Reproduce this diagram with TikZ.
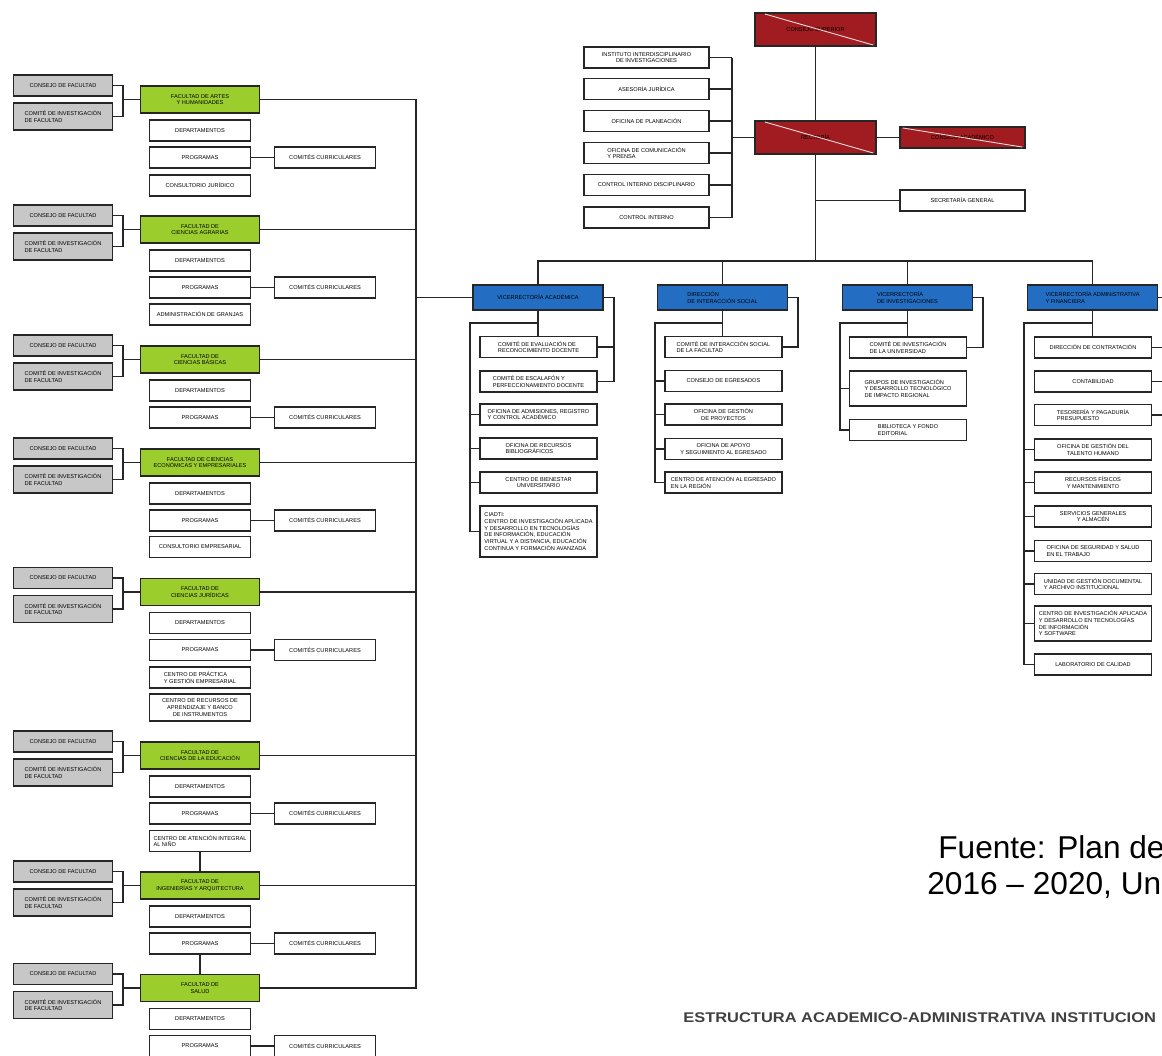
\documentclass[tikz,border=0pt]{standalone}
\usepackage{fontspec}
\setmainfont{Liberation Sans}
\newcommand\boxfont{\fontsize{3.2}{3.8}\selectfont}
\definecolor{boardred}{RGB}{160,28,32}
\definecolor{viceblue}{RGB}{35,110,195}
\definecolor{facgreen}{RGB}{155,205,45}
\tikzset{
  orgbox/.style={draw=black!85, line width=0.9pt, fill=white, font=\boxfont, align=center,
    inner sep=1pt, minimum height=0.42cm},
  staff/.style={orgbox, minimum width=2.5cm},
  board/.style={orgbox, fill=boardred, minimum width=2.42cm, minimum height=0.66cm},
  vice/.style={orgbox, fill=viceblue, minimum width=2.6cm, minimum height=0.5cm, align=left},
  subunit/.style={orgbox, minimum width=2.34cm},
  fac/.style={orgbox, fill=facgreen, minimum width=2.38cm, minimum height=0.54cm},
  council/.style={orgbox, fill=black!22, minimum width=1.98cm, align=left},
  facunit/.style={orgbox, minimum width=2.02cm},
  wire/.style={draw=black!85, line width=0.7pt},
  slash/.style={draw=white!85!boardred, line width=0.5pt},
}
\begin{document}
\begin{tikzpicture}[x=0.02cm, y=-0.02cm]
  \useasboundingbox (0,0) rectangle (1162,1055);
  \clip (0,0) rectangle (1162,1055);
  \fill[white] (0,0) rectangle (1162,1055);

  % direccion
  \node[board] (csup) at (815.5,29.5) {CONSEJO SUPERIOR};
  \node[board] (rect) at (815.5,137.5) {RECTOR\'IA};
  \node[board, minimum width=2.5cm, minimum height=0.42cm] (cacad) at (962.5,137.5) {CONSEJO ACAD\'EMICO};
  \draw[slash] ([xshift=6pt,yshift=-1pt]csup.north west) -- ([xshift=-2pt,yshift=1pt]csup.south east);
  \draw[slash] ([xshift=6pt,yshift=-1pt]rect.north west) -- ([xshift=-2pt,yshift=1pt]rect.south east);
  \draw[slash] ([xshift=2pt,yshift=-1pt]cacad.north west) -- ([xshift=-2pt,yshift=1pt]cacad.south east);
  \node[staff] (sgen) at (962.5,200.5) {SECRETAR\'IA GENERAL};

  \node[staff] (st1) at (646.5,57.5) {INSTITUTO INTERDISCIPLINARIO\\DE INVESTIGACIONES};
  \node[staff] (st2) at (646.5,89) {ASESOR\'IA JUR\'IDICA};
  \node[staff] (st3) at (646.5,121) {OFICINA DE PLANEACI\'ON};
  \node[staff, align=left] (st4) at (646.5,153) {OFICINA DE COMUNICACI\'ON\\Y PRENSA};
  \node[staff] (st5) at (646.5,185) {CONTROL INTERNO DISCIPLINARIO};
  \node[staff] (st6) at (646.5,217.5) {CONTROL INTERNO};
  \coordinate (stj) at (732,137.5);
  \coordinate (bus) at (815.5,261);

  \draw[wire] (csup) -- (rect);
  \draw[wire] (rect) -- (cacad);
  \draw[wire] (rect.west) -- (stj);
  \foreach \i in {1,...,6}
  {
    \draw[wire] (st\i.east) -- (st\i.east -| stj);
  }
  \draw[wire] (st1.east -| stj) -- (st6.east -| stj);
  \draw[wire] (rect.south) -- (bus);
  \draw[wire] (sgen.west) -- (sgen.west -| bus);

  % vicerrectorias
  \node[vice, align=center] (vac) at (538,297.5) {VICERRECTOR\'IA ACAD\'EMICA};
  \node[vice] (dis) at (722.5,297.5) {DIRECCI\'ON\\DE INTERACCI\'ON SOCIAL};
  \node[vice] (vin) at (907.5,297.5) {VICERRECTOR\'IA\\DE INVESTIGACIONES};
  \node[vice] (vaf) at (1092.5,297.5) {VICERRECTOR\'IA ADMINISTRATIVA\\Y FINANCIERA};
  \draw[wire] (vac.north) |- (bus) -| (vaf.north);
  \draw[wire] (dis.north) -- (dis.north |- bus);
  \draw[wire] (vin.north) -- (vin.north |- bus);

  \node[subunit, align=left] (vac1) at (538.5,347) {COMIT\'E DE EVALUACI\'ON DE\\RECONOCIMIENTO DOCENTE};
  \node[subunit, align=left] (vac2) at (538.5,381.5) {COMIT\'E DE ESCALAF\'ON Y\\PERFECCIONAMIENTO DOCENTE};
  \node[subunit, align=left] (vac3) at (538.5,414.5) {OFICINA DE ADMISIONES, REGISTRO\\Y CONTROL ACAD\'EMICO};
  \node[subunit, align=left] (vac4) at (538.5,448.5) {OFICINA DE RECURSOS\\BIBLIOGR\'AFICOS};
  \node[subunit] (vac5) at (538.5,482.5) {CENTRO DE BIENESTAR\\UNIVERSITARIO};
  \node[subunit, align=left, minimum height=1.02cm] (vac6) at (538.5,531.5) {CIADTI:\\CENTRO DE INVESTIGACI\'ON APLICADA\\Y DESARROLLO EN TECNOLOG\'IAS\\DE INFORMACI\'ON, EDUCACI\'ON\\VIRTUAL Y A DISTANCIA, EDUCACI\'ON\\CONTINUA Y FORMACI\'ON AVANZADA};
  \coordinate (vacr) at (470,323);
  \coordinate (vacb) at (614,297.5);
  \draw[wire] (vac.south) -- (vac.south |- vac1.north);
  \draw[wire] (vac.south |- vacr) -- (vacr) |- (vac6.west);
  \foreach \j in {3,4,5}
  {
    \draw[wire] (vac\j.west) -- (vac\j.west -| vacr);
  }
  \draw[wire] (vac.east) -- (vacb) |- (vac2.east);
  \draw[wire] (vac1.east) -- (vac1.east -| vacb);

  \node[subunit, align=left] (dis1) at (723.5,347) {COMIT\'E DE INTERACCI\'ON SOCIAL\\DE LA FACULTAD};
  \node[subunit] (dis2) at (723.5,381) {CONSEJO DE EGRESADOS};
  \node[subunit] (dis3) at (723.5,414.5) {OFICINA DE GESTI\'ON\\DE PROYECTOS};
  \node[subunit] (dis4) at (723.5,449) {OFICINA DE APOYO\\Y SEGUIMIENTO AL EGRESADO};
  \node[subunit, align=left] (dis5) at (723.5,482.5) {CENTRO DE ATENCI\'ON AL EGRESADO\\EN LA REGI\'ON};
  \coordinate (disr) at (655,323);
  \coordinate (disb) at (798,297.5);
  \draw[wire] (dis.south) -- (dis.south |- dis1.north);
  \draw[wire] (dis.south |- disr) -- (disr) |- (dis5.west);
  \foreach \j in {2,3,4}
  {
    \draw[wire] (dis\j.west) -- (dis\j.west -| disr);
  }
  \draw[wire] (dis.east) -- (disb) |- (dis1.east);

  \node[subunit, align=left] (vin1) at (908,347.5) {COMIT\'E DE INVESTIGACI\'ON\\DE LA UNIVERSIDAD};
  \node[subunit, align=left, minimum height=0.7cm] (vin2) at (908,388.5) {GRUPOS DE INVESTIGACI\'ON\\Y DESARROLLO TECNOL\'OGICO\\DE IMPACTO REGIONAL};
  \node[subunit, align=left] (vin3) at (908,430) {BIBLIOTECA Y FONDO\\EDITORIAL};
  \coordinate (vinr) at (840,323);
  \coordinate (vinb) at (983,297.5);
  \draw[wire] (vin.south) -- (vin.south |- vin1.north);
  \draw[wire] (vin.south |- vinr) -- (vinr) |- (vin3.west);
  \draw[wire] (vin2.west) -- (vin2.west -| vinr);
  \draw[wire] (vin.east) -- (vinb) |- (vin1.east);

  \node[subunit] (vaf1) at (1093,347.5) {DIRECCI\'ON DE CONTRATACI\'ON};
  \node[subunit, align=left] (vaf2) at (1093,381.5) {CONTABILIDAD};
  \node[subunit, align=left] (vaf3) at (1093,415) {TESORER\'IA Y PAGADUR\'IA\\PRESUPUESTO};
  \node[subunit] (vaf4) at (1093,449.5) {OFICINA DE GESTI\'ON DEL\\TALENTO HUMANO};
  \node[subunit] (vaf5) at (1093,482.5) {RECURSOS F\'ISICOS\\Y MANTENIMIENTO};
  \node[subunit] (vaf6) at (1093,516.5) {SERVICIOS GENERALES\\Y ALMAC\'EN};
  \node[subunit, align=left] (vaf7) at (1093,551) {OFICINA DE SEGURIDAD Y SALUD\\EN EL TRABAJO};
  \node[subunit, align=left] (vaf8) at (1093,584) {UNIDAD DE GESTI\'ON DOCUMENTAL\\Y ARCHIVO INSTITUCIONAL};
  \node[subunit, align=left, minimum height=0.7cm] (vaf9) at (1093,623.5) {CENTRO DE INVESTIGACI\'ON APLICADA\\Y DESARROLLO EN TECNOLOG\'IAS\\DE INFORMACI\'ON\\Y SOFTWARE};
  \node[subunit] (vaf10) at (1093,664.5) {LABORATORIO DE CALIDAD};
  \coordinate (vafr) at (1024,323);
  \coordinate (vafb) at (1172,297.5);
  \draw[wire] (vaf.south) -- (vaf.south |- vaf1.north);
  \draw[wire] (vaf.south |- vafr) -- (vafr) |- (vaf10.west);
  \foreach \j in {4,...,9}
  {
    \draw[wire] (vaf\j.west) -- (vaf\j.west -| vafr);
  }
  \draw[wire] (vaf.east) -- (vafb) |- (vaf3.east);
  \draw[wire] (vaf1.east) -- (vaf1.east -| vafb);
  \draw[wire] (vaf2.east) -- (vaf2.east -| vafb);

  % facultades
  \foreach \i/\y/\name in {1/99.5/{FACULTAD DE ARTES\\Y HUMANIDADES},
    2/229.5/{FACULTAD DE\\CIENCIAS AGRARIAS},
    3/359.5/{FACULTAD DE\\CIENCIAS B\'ASICAS},
    4/462.5/{FACULTAD DE CIENCIAS\\ECON\'OMICAS Y EMPRESARIALES},
    5/592/{FACULTAD DE\\CIENCIAS JUR\'IDICAS},
    6/755.5/{FACULTAD DE\\CIENCIAS DE LA EDUCACI\'ON},
    7/885.5/{FACULTAD DE\\INGENIER\'IAS Y ARQUITECTURA},
    8/988/{FACULTAD DE\\SALUD}}
  {
    \node[fac] (f\i) at (200,\y) {\name};
    \node[council, align=center] (fa\i) at (63,\y-14) {CONSEJO DE FACULTAD};
    \node[council, minimum height=0.54cm] (fb\i) at (63,\y+17) {COMIT\'E DE INVESTIGACI\'ON\\DE FACULTAD};
    \node[facunit] (fd\i) at (200,\y+31) {DEPARTAMENTOS};
    \node[facunit] (fp\i) at (200,\y+58) {PROGRAMAS};
    \node[facunit] (fc\i) at (325,\y+58) {COMIT\'ES CURRICULARES};
    \coordinate (fj\i) at (123,\y);
    \draw[wire] (fa\i.east) -| (fj\i) |- (fb\i.east);
    \draw[wire] (fj\i) -- (f\i.west);
    \draw[wire] (fp\i) -- (fc\i);
  }
  \node[facunit] (fx1) at (200,185.5) {CONSULTORIO JUR\'IDICO};
  \node[facunit] (fx2) at (200,314.5) {ADMINISTRACI\'ON DE GRANJAS};
  \node[facunit] (fx4) at (200,547) {CONSULTORIO EMPRESARIAL};
  \node[facunit, align=left] (fx5) at (200,677.5) {CENTRO DE PR\'ACTICA\\Y GESTI\'ON EMPRESARIAL};
  \node[facunit, minimum height=0.54cm] (fy5) at (200,707.5) {CENTRO DE RECURSOS DE\\APRENDIZAJE Y BANCO\\DE INSTRUMENTOS};
  \node[facunit, align=left] (fx6) at (200,841) {CENTRO DE ATENCI\'ON INTEGRAL\\AL NI\~NO};
  \draw[wire] (fx6.south) -- (f7.north);
  \draw[wire] (fp7.south) -- (f8.north);

  \coordinate (frail) at (416,297.5);
  \draw[wire] (f1.east) -| (frail) |- (f8.east);
  \foreach \i in {2,...,7}
  {
    \draw[wire] (f\i.east) -- (f\i.east -| frail);
  }
  \draw[wire] (frail) -- (vac.west);

  % fuente
  \node[anchor=base west, inner sep=0, font=\fontsize{18}{22}\selectfont] (src1) at (938,858) {Fuente: Plan de};
  \node[anchor=base west, inner sep=0, font=\fontsize{18}{22}\selectfont] (src2) at (927,894) {2016 -- 2020, Un};
  \node[anchor=base west, inner sep=0, text=black!75, font=\bfseries\fontsize{8}{9}\selectfont] (title) at (683,1022) {\scalebox{1.17}[1]{ESTRUCTURA ACADEMICO-ADMINISTRATIVA INSTITUCION}};
\end{tikzpicture}
\end{document}
